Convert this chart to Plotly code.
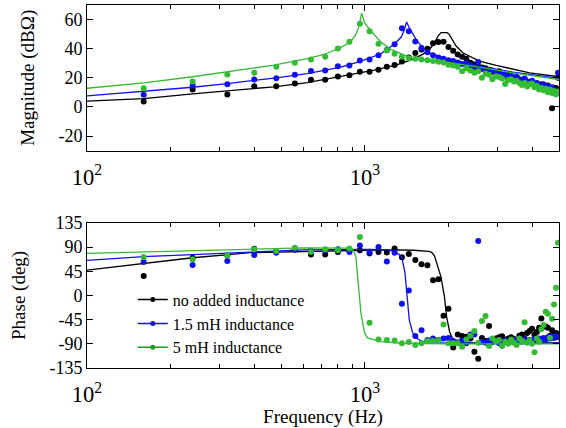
import plotly.graph_objects as go

# Measurement frequencies (Hz)
freq = [160, 240, 320, 400, 480, 560, 640, 720, 800, 880, 960, 1040, 1120, 1200, 1280,
        1360, 1440, 1520, 1600, 1680, 1760, 1840, 1920, 2000, 2080, 2160, 2240, 2320, 2400,
        2480, 2560, 2640, 2720, 2800, 2880, 2960, 3040, 3120, 3200, 3280, 3360, 3440, 3520,
        3600, 3680, 3760, 3840, 3920, 4000, 4080, 4160, 4240, 4320, 4400, 4480, 4560, 4640,
        4720, 4800, 4880, 4960]

# Measured magnitude (dBOhm)
mag_none = [3.7, 11.9, 8.5, 14.2, 14.2, 16.1, 18.6, 18.6, 20.9, 21.8, 24.1, 24.1, 25.5, 27.6, 28.7,
            31.2, 34.0, 37.0, 39.5, 40.0, 43.7, 44.6, 44.8, 41.1, 38.5, 36.0, 34.5, 33.0, 30.3,
            29.2, 28.0, 27.0, 26.5, 25.5, 24.0, 23.5, 24.5, 22.0, 21.0, 22.5, 20.0, 19.5, 20.5,
            18.5, 17.7, 19.0, 17.0, 16.5, 17.5, 15.5, 16.0, 14.0, 15.5, 13.5, 14.0, 14.7, 12.0,
            -1.0, 13.1, 13.0, 20.0]
mag_15mh = [8.3, 14.7, 15.6, 18.8, 19.7, 22.1, 24.6, 25.0, 28.0, 28.5, 31.9, 32.6, 35.4, 39.0, 43.0,
            54.0, 52.0, 45.0, 40.5, 37.5, 35.5, 34.0, 33.0, 32.0, 31.5, 30.5, 29.5, 30.0, 28.5,
            27.0, 30.8, 26.0, 25.5, 24.5, 25.0, 23.0, 23.5, 22.0, 22.5, 21.0, 21.5, 20.0, 20.5,
            19.0, 18.5, 19.5, 17.5, 17.0, 18.0, 15.5, 16.5, 15.0, 14.0, 15.5, 13.0, 14.0, 12.5,
            13.5, 11.0, 9.0, 23.4]
mag_5mh = [12.8, 17.4, 22.3, 23.4, 27.6, 30.3, 32.6, 34.5, 40.2, 44.8, 57.2, 51.9, 43.4, 38.8, 36.5,
           34.5, 33.5, 33.0, 32.5, 32.0, 31.5, 31.0, 30.5, 29.0, 28.5, 27.5, 24.5, 26.5, 25.0,
           23.5, 24.5, 20.0, 23.0, 22.0, 19.0, 21.0, 20.5, 19.5, 15.8, 18.5, 19.0, 17.5, 18.0,
           16.5, 15.0, 16.5, 14.0, 15.5, 16.0, 13.5, 14.5, 12.0, 13.0, 11.5, 12.5, 10.0, 12.0,
           9.5, 11.0, 8.5, 10.5]

# Measured phase (deg)
ph_none = [35.9, 70, 74.4, 86.8, 82.4, 85.6, 76, 76, 80.5, 85, 84, 78, 80.5, 80, 87,
           71, 77, 66, 58, 56, 28, 30, -38, -25, -97, -72.5, -75.7, -77, -80,
           -105, -118, -79, -85, -57, -85, -80, -78, -76, -83, -80, -78, -81, -84,
           -75, -72.5, -80, -70, -66, -62, -73, -68, -60, -43, -58, -58, -60, -75,
           -65, -75, -70, -72]
ph_15mh = [62, 56.4, 63.8, 75, 79.4, 85, 83, 84, 86, 80.5, 93, 81, 90, 63, 79.4,
           -15.5, 9.3, -75.7, -65, -83, -80, -83, -80, -79, -85, -87, -84, -89, -72.5,
           -72.5, 101, -86, -88, -84, -87, -85, -89, -86, -84, -88, -85, -83, -87,
           -84, -86, -82, -85, -83, -86, -81, -84, -80, -83, -79, -82, -78, -80,
           -77, -79, -76, -78]
ph_5mh = [71.3, 67, 74.4, 85.6, 82.4, 88.7, 80.5, 85.6, 84, 87.3, 108.5, -51, -82, -83, -84,
          -89, -86.8, -92.4, -89, -85, -85, -83.7, -54, -89, -89, -89, -95.5, -82, -75,
          -66.4, -88, -47.8, -38.5, -94, -80, -85, -83, -94, -86, -90, -82, -88, -92,
          -80, -85, -49.7, -88, -84, -90, -105.5, -80, -86, -63, -55, -30.3, -34, -78.7,
          -43.4, -16.7, 14, 98]

# Model curves: magnitude
fit_mag_none_f = [100, 160, 240, 320, 387, 471, 621, 818, 1081, 1294, 1406, 1485, 1615, 1706, 1760,
                  1803, 1840, 1880, 1980, 2010, 2045, 2131, 2253, 2586, 2972, 3920, 5000]
fit_mag_none = [3.9, 5.7, 9.0, 11.2, 12.6, 13.8, 16.6, 20.7, 25.2, 28.7, 30.8, 32.6, 36.1, 39.5, 42.5,
                46.0, 49.0, 51.0, 51.0, 50.0, 47.6, 41.8, 37.2, 31.5, 28.5, 23.4, 20.7]
fit_mag_15mh_f = [100, 160, 240, 320, 400, 480, 620, 820, 970, 1143, 1276, 1353, 1390, 1414, 1440,
                  1466, 1528, 1615, 1706, 1959, 2586, 3411, 5000]
fit_mag_15mh = [7.6, 10.5, 13.5, 16.0, 18.0, 20.0, 22.8, 27.3, 31.4, 36.5, 43.0, 48.0, 53.5, 58.4, 55.0,
                52.1, 46.4, 40.7, 37.2, 33.1, 28.0, 23.9, 19.5]
fit_mag_5mh_f = [100, 160, 240, 320, 387, 471, 621, 713, 818, 889, 930, 955, 973, 1000, 1052,
                 1143, 1242, 1383, 1485, 1706, 1959, 2586, 3411, 5000]
fit_mag_5mh = [12.8, 16.5, 20.7, 23.9, 26.2, 28.7, 33.1, 36.0, 40.7, 44.6, 50.0, 56.0, 64.3, 57.5, 52.1,
               44.5, 39.5, 35.4, 33.1, 32.1, 30.8, 27.3, 23.4, 18.8]

# Model curves: phase
fit_ph_none_f = [100, 160, 240, 387, 600, 1000, 1300, 1500, 1700, 1740, 1780, 1803, 1840, 1880, 1935,
                 1970, 2020, 2060, 2107, 2180, 2253, 3000, 5000]
fit_ph_none = [47, 59, 70, 79.4, 82, 84, 84.5, 84, 82, 80, 74, 65.5, 50, 34.4, -2.8,
               -40, -68, -78, -83.4, -87, -88, -88.5, -88.5]
fit_ph_15mh_f = [100, 160, 240, 387, 600, 1000, 1200, 1250, 1294, 1330, 1360, 1395, 1420, 1445, 1485,
                 1528, 1600, 1706, 2000, 5000]
fit_ph_15mh = [65, 72, 76, 81, 84.5, 85.5, 85, 83, 80, 76, 70, 42, -1, -45, -69,
               -79, -85, -88, -89, -89]
fit_ph_5mh_f = [100, 160, 240, 387, 600, 880, 903, 928, 946, 968, 997, 1023, 1143, 1353, 2000, 5000]
fit_ph_5mh = [78, 81, 84, 87, 88.5, 88, 86, 73, 17, -32, -69, -79, -86, -89, -90, -90]

names = ["no added inductance", "1.5 mH inductance", "5 mH inductance"]
colors = ["#000000", "#1010f0", "#33bb33"]
legend_colors = ["#000000", "#1010f0", "#1f9a1f"]

FONT = "Liberation Serif, Times New Roman, serif"

fig = go.Figure()

mag_sets = [(freq, mag_none, fit_mag_none_f, fit_mag_none),
            (freq, mag_15mh, fit_mag_15mh_f, fit_mag_15mh),
            (freq, mag_5mh, fit_mag_5mh_f, fit_mag_5mh)]
ph_sets = [(freq, ph_none, fit_ph_none_f, fit_ph_none),
           (freq, ph_15mh, fit_ph_15mh_f, fit_ph_15mh),
           (freq, ph_5mh, fit_ph_5mh_f, fit_ph_5mh)]

for (fx, my, lf, ly), c in zip(mag_sets, colors):
    fig.add_trace(go.Scatter(x=lf, y=ly, mode="lines", line=dict(color=c, width=1.3),
                             xaxis="x", yaxis="y", showlegend=False, hoverinfo="skip"))
    fig.add_trace(go.Scatter(x=fx, y=my, mode="markers", marker=dict(color=c, size=6),
                             xaxis="x", yaxis="y", showlegend=False))

for (fx, py, lf, ly), c in zip(ph_sets, colors):
    fig.add_trace(go.Scatter(x=lf, y=ly, mode="lines", line=dict(color=c, width=1.3),
                             xaxis="x2", yaxis="y2", showlegend=False, hoverinfo="skip"))
    fig.add_trace(go.Scatter(x=fx, y=py, mode="markers", marker=dict(color=c, size=6),
                             xaxis="x2", yaxis="y2", showlegend=False))

# Legend entries
for n, c in zip(names, legend_colors):
    fig.add_trace(go.Scatter(x=[None], y=[None], mode="lines+markers", name=n,
                             line=dict(color=c, width=1.5), marker=dict(color=c, size=5),
                             xaxis="x2", yaxis="y2"))

xcommon = dict(type="log", range=[2, 3.69897], dtick=1, exponentformat="power",
               showline=True, linecolor="black", linewidth=1, mirror="ticks",
               ticks="inside", ticklen=6, tickcolor="black", showgrid=False, zeroline=False,
               minor=dict(ticks="inside", ticklen=4, dtick="D1", tickcolor="black", showgrid=False),
               tickfont=dict(family=FONT, size=18, color="black"), ticklabelstandoff=7,
               automargin=False)
ycommon = dict(showline=True, linecolor="black", linewidth=1, mirror="ticks",
               ticks="inside", ticklen=6, tickcolor="black", showgrid=False, zeroline=False,
               tickfont=dict(family=FONT, size=18, color="black"), automargin=False)

fig.update_layout(
    width=566, height=428,
    margin=dict(l=87, r=7, t=5, b=60),
    paper_bgcolor="white", plot_bgcolor="white",
    font=dict(family=FONT, color="black"),
    xaxis=dict(**xcommon, anchor="y"),
    yaxis=dict(**ycommon, domain=[0.599, 1.0], range=[-30, 70],
               tickvals=[-20, 0, 20, 40, 60], ticktext=["-20", "0", "20", "40", "60"],
               title=dict(text="Magnitude (dBΩ)", font=dict(family=FONT, size=19), standoff=18)),
    xaxis2=dict(**xcommon, anchor="y2",
                title=dict(text="Frequency (Hz)", font=dict(family=FONT, size=19), standoff=12)),
    yaxis2=dict(**ycommon, domain=[0.0, 0.4], range=[-135, 135],
                tickvals=[-135, -90, -45, 0, 45, 90, 135],
                ticktext=["-135", "-90", "-45", "0", "45", "90", "135"],
                title=dict(text="Phase (deg)", font=dict(family=FONT, size=19), standoff=18)),
    legend=dict(x=0.097, y=0.235, xanchor="left", yanchor="top", bgcolor="rgba(0,0,0,0)",
                font=dict(family=FONT, size=16), tracegroupgap=0, itemwidth=30),
)

fig.write_html("out.html")
